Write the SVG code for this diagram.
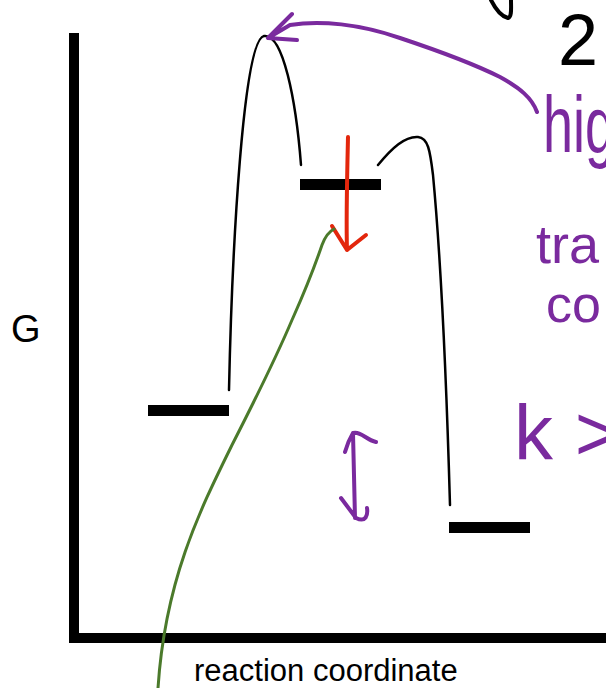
<svg xmlns="http://www.w3.org/2000/svg" width="606" height="688" viewBox="0 0 606 688">
<style>
.axis{stroke:#000;stroke-width:10;fill:none}
.level{stroke:#000;stroke-width:11;fill:none}
.curve{stroke:#000;stroke-width:2.5;fill:none;stroke-linecap:round}
.ink{stroke:#7a2a9e;stroke-width:4;fill:none;stroke-linecap:round;stroke-linejoin:round}
.red{stroke:#e3260c;stroke-width:4;fill:none;stroke-linecap:round;stroke-linejoin:round}
.green{stroke:#4b7a2b;stroke-width:3;fill:none;stroke-linecap:round}
.label{font-family:"Liberation Sans",Arial,sans-serif;fill:#000}
.hand{font-family:"Liberation Sans",Arial,sans-serif;fill:#7a2a9e}
</style>
<rect width="606" height="688" fill="#fff"/>
<g id="axes">
<line class="axis" x1="74" y1="33" x2="74" y2="643"/>
<line class="axis" x1="69" y1="638" x2="606" y2="638"/>
<text class="label" x="11" y="342" font-size="38">G</text>
<text class="label" x="194" y="681" font-size="31">reaction coordinate</text>
</g>
<g id="levels">
<line id="reactant" class="level" x1="148" y1="410.5" x2="229" y2="410.5"/>
<line id="intermediate" class="level" x1="300" y1="184.5" x2="381" y2="184.5"/>
<line id="product" class="level" x1="449" y1="527.5" x2="530" y2="527.5"/>
</g>
<g id="barriers">
<path class="curve" d="M229,390 C232,250 243,40 264,36 C283,33 296,100 301,165"/>
<path class="curve" d="M378,165 C392,148 405,136 418,137 C428,138 430,150 433,175 C441,260 447,400 450,505"/>
</g>
<g id="annotations">
<path class="red" d="M348,137 C347,180 346,220 347,250 M332,226 L347,250 L366,235"/>
<path class="green" d="M334,229 C328,232 325,237 322,245 C310,280 300,302 292,320 C275,360 255,400 232,445 C200,510 165,580 158,688"/>
<path class="ink" d="M537,112 C532,98 520,88 500,77 C470,62 430,48 400,38 C360,24 320,20 290,25 L268,38 M292,14 L268,38 L297,40"/>
<path class="ink" d="M353,433 L355,518 M345,452 C347,445 350,438 353,433 C361,431 366,440 376,442 M341,498 L356,518 C366,523 368,515 367,508"/>
<path d="M491,0 C495,8 500,16 508,18 C512,17 511,8 511,0" stroke="#000" stroke-width="4" fill="none" stroke-linecap="round"/>
<text class="label" x="558" y="65" font-size="72">2</text>
<text class="hand" x="543" y="152" font-size="80" textLength="72" lengthAdjust="spacingAndGlyphs">hig</text>
<text class="hand" x="536" y="263" font-size="54">tra</text>
<text class="hand" x="546" y="322" font-size="52">co</text>
<text class="hand" x="514" y="460" font-size="78">k &gt;</text>
</g>
</svg>
